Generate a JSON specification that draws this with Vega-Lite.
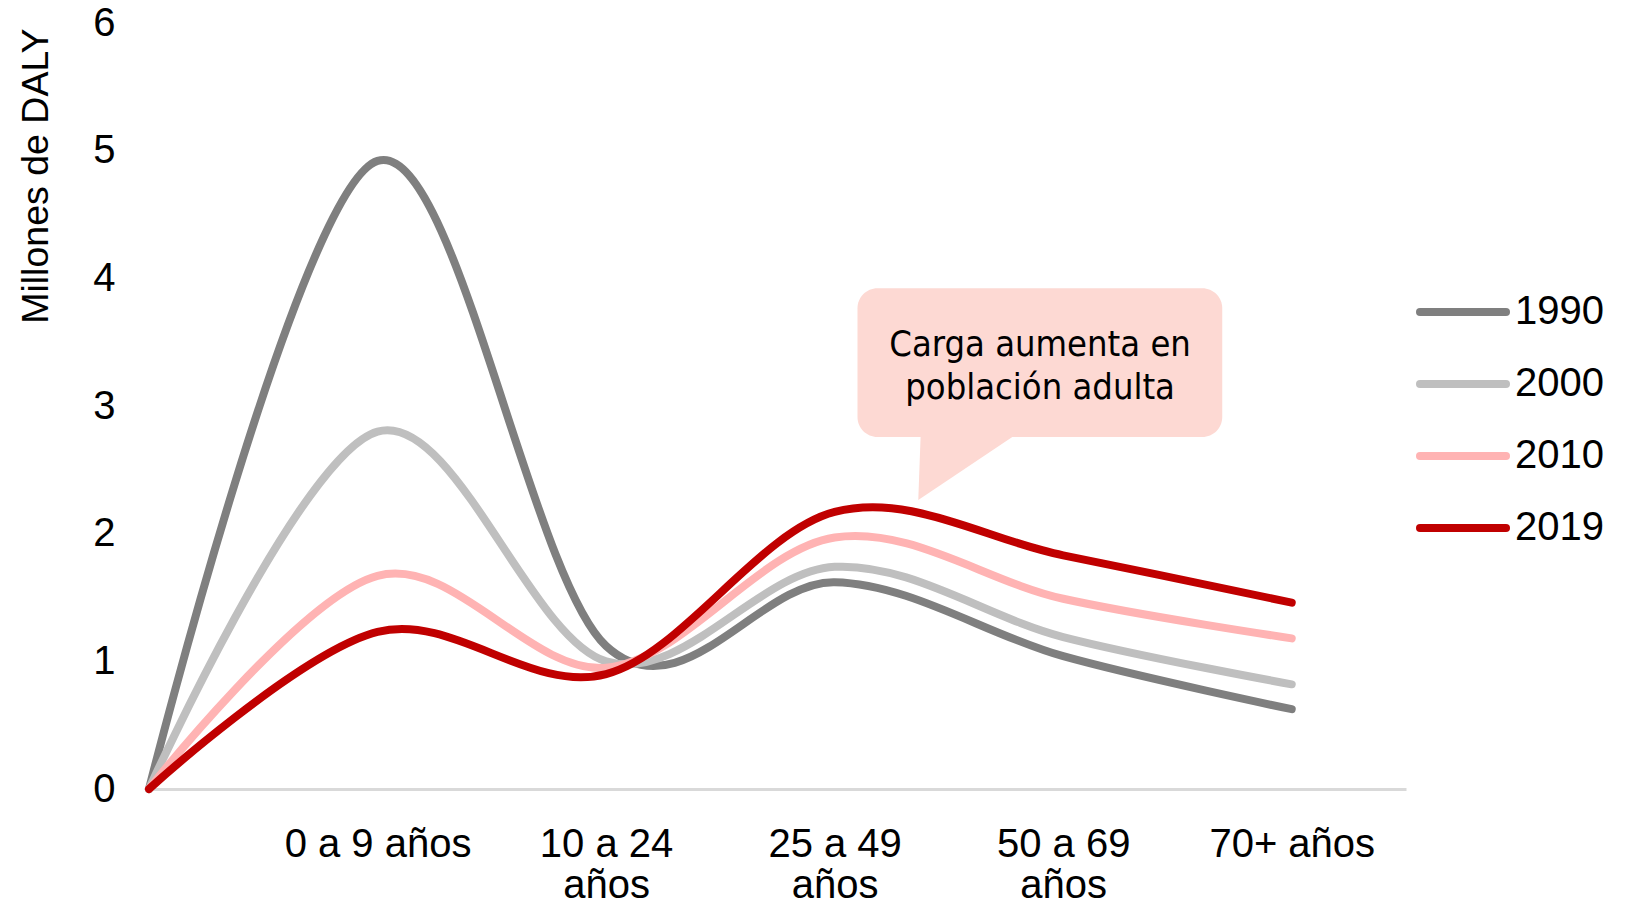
{
  "$schema": "https://vega.github.io/schema/vega-lite/v6.json",
  "width": 1257,
  "height": 766,
  "autosize": {"type": "none"},
  "padding": {"left": 149, "top": 23, "right": 226, "bottom": 114},
  "background": "white",
  "config": {
    "view": {"stroke": null},
    "font": "Liberation Sans"
  },
  "datasets": {
    "daly": [
      {"pos": 0, "edad": "", "anio": "1990", "millones": 0},
      {"pos": 1, "edad": "0 a 9 años", "anio": "1990", "millones": 4.92},
      {"pos": 2, "edad": "10 a 24 años", "anio": "1990", "millones": 1.12},
      {"pos": 3, "edad": "25 a 49 años", "anio": "1990", "millones": 1.62},
      {"pos": 4, "edad": "50 a 69 años", "anio": "1990", "millones": 1.04},
      {"pos": 5, "edad": "70+ años", "anio": "1990", "millones": 0.625},
      {"pos": 0, "edad": "", "anio": "2000", "millones": 0},
      {"pos": 1, "edad": "0 a 9 años", "anio": "2000", "millones": 2.8},
      {"pos": 2, "edad": "10 a 24 años", "anio": "2000", "millones": 1.0},
      {"pos": 3, "edad": "25 a 49 años", "anio": "2000", "millones": 1.74},
      {"pos": 4, "edad": "50 a 69 años", "anio": "2000", "millones": 1.19},
      {"pos": 5, "edad": "70+ años", "anio": "2000", "millones": 0.82},
      {"pos": 0, "edad": "", "anio": "2010", "millones": 0},
      {"pos": 1, "edad": "0 a 9 años", "anio": "2010", "millones": 1.67},
      {"pos": 2, "edad": "10 a 24 años", "anio": "2010", "millones": 0.95},
      {"pos": 3, "edad": "25 a 49 años", "anio": "2010", "millones": 1.97},
      {"pos": 4, "edad": "50 a 69 años", "anio": "2010", "millones": 1.49},
      {"pos": 5, "edad": "70+ años", "anio": "2010", "millones": 1.18},
      {"pos": 0, "edad": "", "anio": "2019", "millones": 0},
      {"pos": 1, "edad": "0 a 9 años", "anio": "2019", "millones": 1.23},
      {"pos": 2, "edad": "10 a 24 años", "anio": "2019", "millones": 0.9},
      {"pos": 3, "edad": "25 a 49 años", "anio": "2019", "millones": 2.17},
      {"pos": 4, "edad": "50 a 69 años", "anio": "2019", "millones": 1.83},
      {"pos": 5, "edad": "70+ años", "anio": "2019", "millones": 1.46}
    ]
  },
  "layer": [
    {
      "data": {"values": [{}]},
      "mark": {"type": "rect", "color": "#fdd9d3", "cornerRadius": 20},
      "encoding": {
        "x": {"datum": 3.1, "type": "quantitative", "scale": {"domain": [0, 5.5]}},
        "x2": {"datum": 4.696},
        "y": {"datum": 3.923, "type": "quantitative", "scale": {"domain": [0, 6]}},
        "y2": {"datum": 2.757}
      }
    },
    {
      "data": {"values": [{}]},
      "mark": {
        "type": "point",
        "shape": "M0.06,-0.3L2.3,-0.3L2,0L0,1.34Z",
        "filled": true,
        "color": "#fdd9d3",
        "opacity": 1,
        "size": 8836
      },
      "encoding": {
        "x": {"datum": 3.366, "type": "quantitative"},
        "y": {"datum": 2.757, "type": "quantitative"}
      }
    },
    {
      "data": {"values": [{"nota": "Carga aumenta en\npoblación adulta"}]},
      "mark": {
        "type": "text",
        "font": "DejaVu Sans Condensed",
        "fontSize": 36,
        "lineHeight": 43,
        "lineBreak": "\n",
        "align": "center",
        "baseline": "alphabetic",
        "color": "#000000"
      },
      "encoding": {
        "x": {"datum": 3.899, "type": "quantitative"},
        "y": {"datum": 3.391, "type": "quantitative"},
        "text": {"field": "nota"}
      }
    },
    {
      "data": {"name": "daly"},
      "mark": {
        "type": "line",
        "interpolate": "cardinal",
        "strokeWidth": 8,
        "strokeCap": "round",
        "strokeJoin": "round"
      },
      "encoding": {
        "x": {
          "field": "pos",
          "type": "quantitative",
          "scale": {"domain": [0, 5.5], "nice": false, "zero": false},
          "axis": {
            "title": null,
            "values": [1, 2, 3, 4, 5],
            "grid": false,
            "ticks": false,
            "domain": true,
            "domainColor": "#d9d9d9",
            "domainWidth": 3,
            "labelFont": "Liberation Sans",
            "labelFontSize": 40,
            "labelColor": "#000000",
            "labelPadding": 35,
            "labelLineHeight": 41,
            "labelLimit": 0,
            "labelFlush": false,
            "labelOverlap": false,
            "labelExpr": "datum.value == 1 ? '0 a 9 años' : datum.value == 2 ? ['10 a 24', 'años'] : datum.value == 3 ? ['25 a 49', 'años'] : datum.value == 4 ? ['50 a 69', 'años'] : datum.value == 5 ? '70+ años' : ''"
          }
        },
        "y": {
          "field": "millones",
          "type": "quantitative",
          "scale": {"domain": [0, 6], "nice": false},
          "axis": {
            "title": "Millones de DALY",
            "titleFont": "Liberation Sans",
            "titleFontSize": 37.5,
            "titleFontWeight": "normal",
            "titleColor": "#000000",
            "titleAngle": -90,
            "titleAlign": "right",
            "titleBaseline": "alphabetic",
            "titleX": -102,
            "titleY": 5,
            "values": [0, 1, 2, 3, 4, 5, 6],
            "format": "d",
            "grid": false,
            "ticks": false,
            "domain": false,
            "labelFont": "Liberation Sans",
            "labelFontSize": 40,
            "labelColor": "#000000",
            "labelPadding": 34,
            "labelFlush": false,
            "labelOverlap": false
          }
        },
        "color": {
          "field": "anio",
          "type": "nominal",
          "scale": {
            "domain": ["1990", "2000", "2010", "2019"],
            "range": ["#7f7f7f", "#bfbfbf", "#ffb3b3", "#c00000"]
          },
          "legend": {
            "title": null,
            "orient": "none",
            "legendX": 1267,
            "legendY": 242,
            "padding": 0,
            "symbolType": "stroke",
            "symbolSize": 7396,
            "symbolStrokeWidth": 8,
            "labelFont": "Liberation Sans",
            "labelFontSize": 40,
            "labelColor": "#000000",
            "labelOffset": 5,
            "rowPadding": 5,
            "symbolOffset": 0,
            "encode": {"symbols": {"update": {"strokeCap": {"value": "round"}}}}
          }
        }
      }
    }
  ]
}
